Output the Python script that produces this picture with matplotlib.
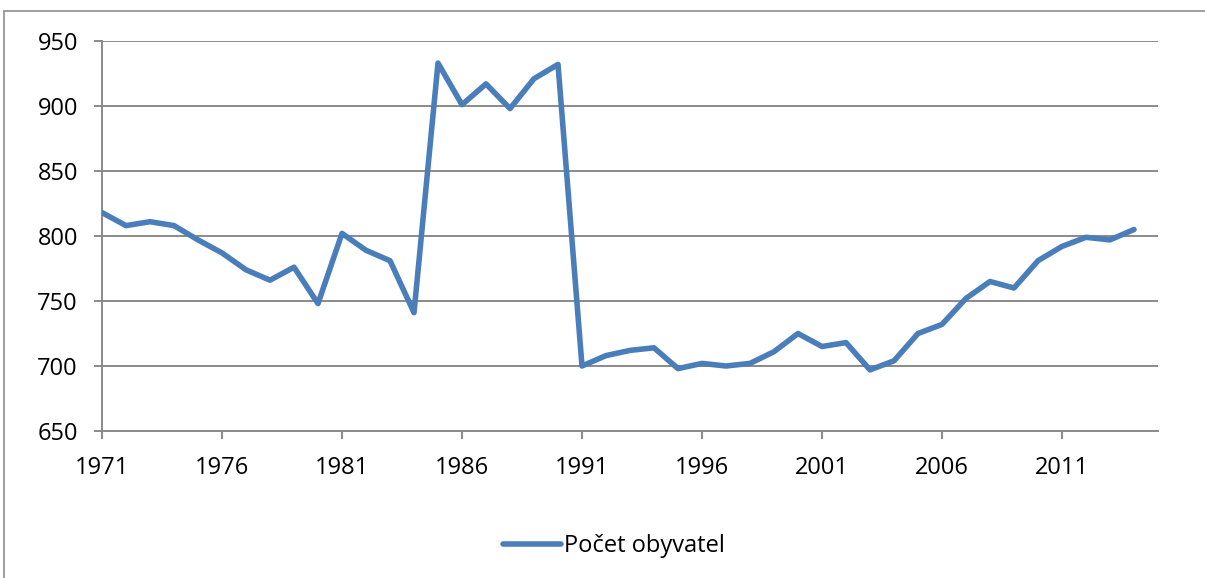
import matplotlib
matplotlib.use("Agg")
import matplotlib.pyplot as plt
from matplotlib.patches import Rectangle

years = list(range(1971, 2015))
population = [818, 808, 811, 808, 797, 787, 774, 766, 776, 748,
              802, 789, 781, 741, 933, 901, 917, 898, 921, 932,
              700, 708, 712, 714, 698, 702, 700, 702, 711, 725,
              715, 718, 697, 704, 725, 732, 752, 765, 760, 781,
              792, 799, 797, 805]
series_name = "Počet obyvatel"
y_ticks = [650, 700, 750, 800, 850, 900, 950]
x_ticks = [1971, 1976, 1981, 1986, 1991, 1996, 2001, 2006, 2011]

plt.rcParams['font.family'] = ['Open Sans', 'DejaVu Sans']

W, H = 1205, 578
fig = plt.figure(figsize=(W / 100, H / 100), dpi=100)
fig.patch.set_facecolor('white')

# outer chart-area border
fig.patches.append(Rectangle((4 / W, -0.05), 1.2, 1 - 11 / H + 0.05,
                             transform=fig.transFigure, fill=False,
                             edgecolor='#8c8c8c', linewidth=1.2))

ax = fig.add_axes([102 / W, 1 - 431 / H, (1158 - 102) / W, (431 - 41) / H])
grid_c = '#8a8a8a'
line_c = '#4a7ebb'

ax.plot(years, population, color=line_c, linewidth=4.0,
        solid_capstyle='round', solid_joinstyle='round',
        label=series_name, zorder=3)

ax.set_xlim(1971, 2015)
ax.set_ylim(650, 950)
ax.set_yticks(y_ticks)
ax.set_xticks(x_ticks)
ax.set_xticklabels([str(t) for t in x_ticks])
ax.yaxis.grid(True, color=grid_c, linewidth=1.4)
ax.set_axisbelow(True)

for s in ['top', 'right']:
    ax.spines[s].set_visible(False)
for s in ['left', 'bottom']:
    ax.spines[s].set_color(grid_c)
    ax.spines[s].set_linewidth(1.4)

ax.tick_params(axis='both', direction='out', length=5.8, width=1.4,
               color=grid_c, labelsize=17, labelcolor='black')
ax.tick_params(axis='y', pad=11.5)
ax.tick_params(axis='x', pad=12)

leg = fig.legend(loc='center', bbox_to_anchor=(614 / W, 1 - 546 / H),
                 frameon=False, fontsize=17, handlelength=2.45,
                 handletextpad=0.15)

fig.savefig('out.png', dpi=100, facecolor='white')
